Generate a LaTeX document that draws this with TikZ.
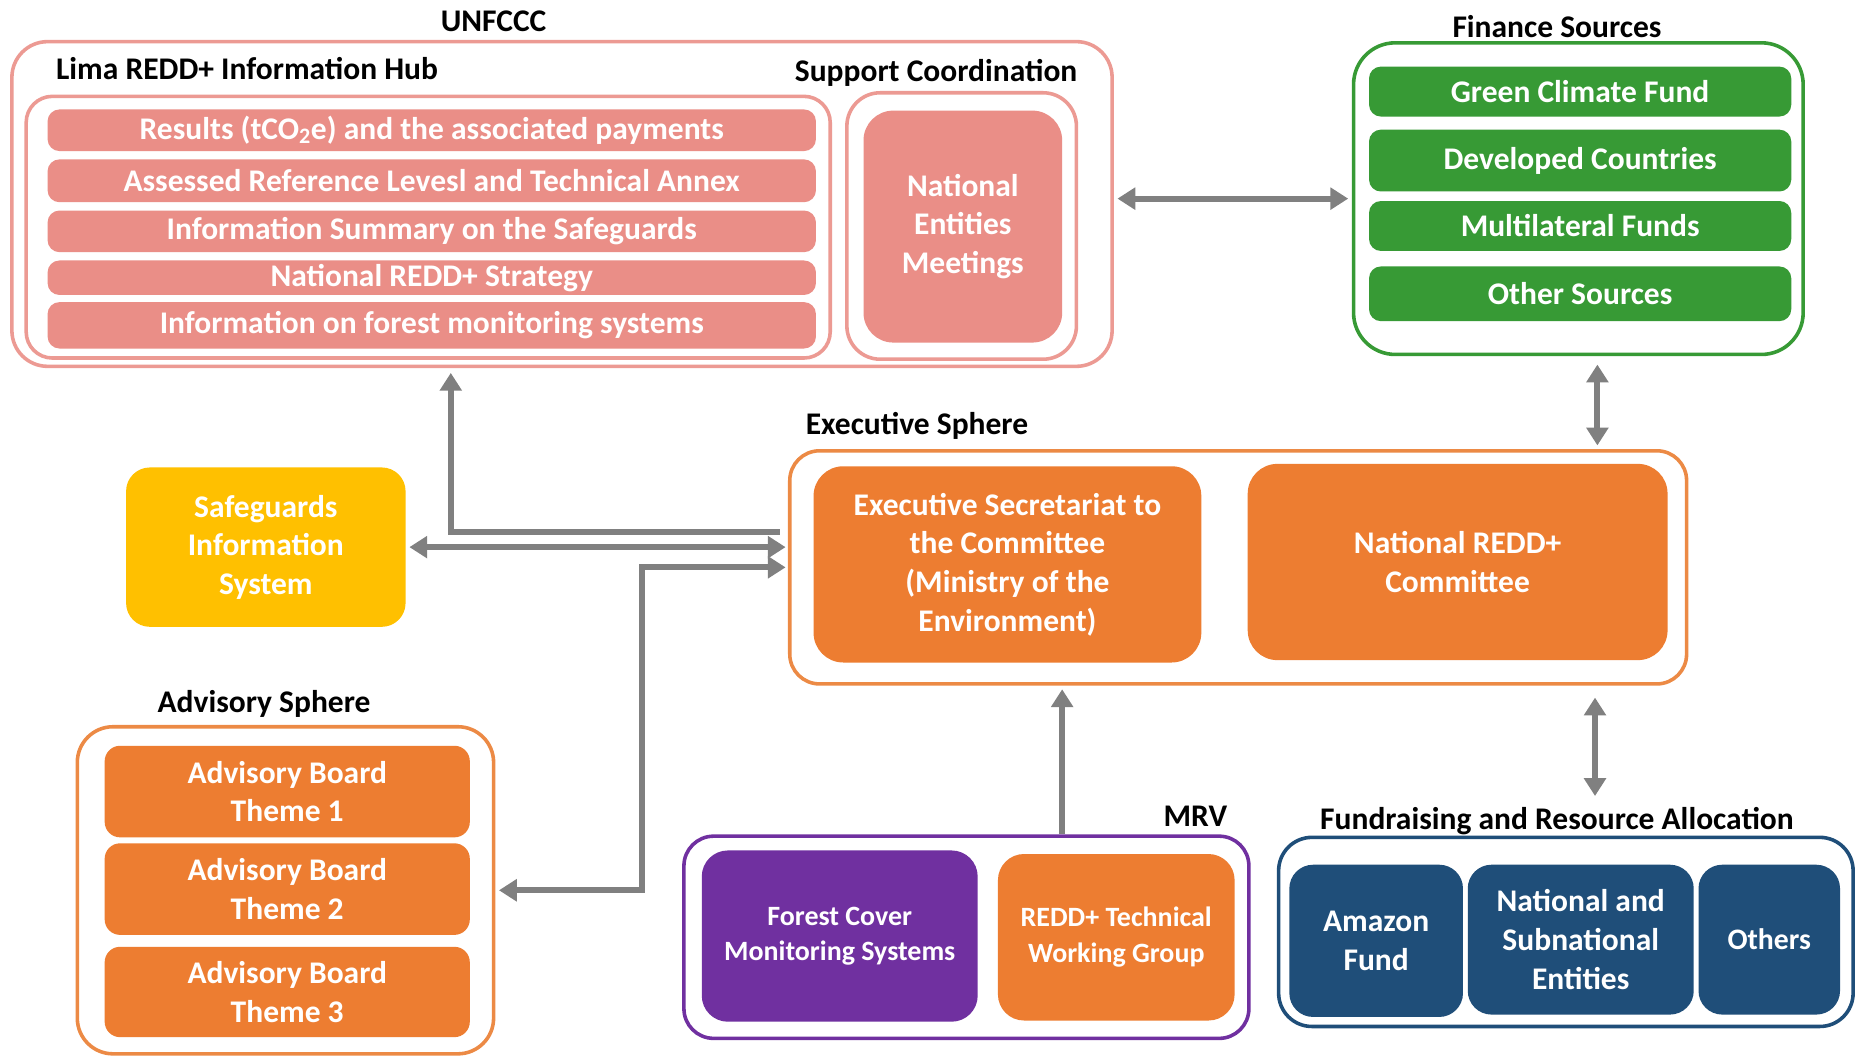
\documentclass[tikz,border=0pt]{standalone}
\usepackage{fontspec}
\setmainfont{Carlito}
\usetikzlibrary{arrows.meta,calc}
\definecolor{salmon}{HTML}{EA8E87}
\definecolor{salmonline}{HTML}{EC9A93}
\definecolor{grn}{HTML}{379A35}
\definecolor{orng}{HTML}{ED7D31}
\definecolor{orngline}{HTML}{EC8A45}
\definecolor{purp}{HTML}{7030A0}
\definecolor{dblue}{HTML}{1F4E79}
\definecolor{yell}{HTML}{FFC000}
\definecolor{arrgray}{HTML}{808080}
\tikzset{
  frame/.style={draw, line width=3pt, fill=white, rounded corners=#1, inner sep=0pt},
  frame/.default=28pt,
  item/.style={fill=#1, text=white, rounded corners=10pt, inner sep=0pt, align=center,
    font=\fontsize{26.5}{32.5}\selectfont\bfseries},
  small/.style={font=\fontsize{23.5}{30}\selectfont\bfseries},
  ttl/.style={text=black, inner sep=0pt, font=\fontsize{26.5}{30}\selectfont\bfseries},
  arr/.style={draw=arrgray, line width=5pt, arrows={-Triangle[length=15pt,width=18pt]}},
  darr/.style={draw=arrgray, line width=5pt, arrows={Triangle[length=15pt,width=18pt]-Triangle[length=15pt,width=18pt]}}
}
\begin{document}
\begin{tikzpicture}[x=1pt,y=-1pt]
\useasboundingbox (0,0) rectangle (1568,891.2);

% UNFCCC
\node[frame=30pt, draw=salmonline, minimum width=925pt, minimum height=273pt] (unfccc) at (472.5,171.5) {};
\node[ttl] (unfccct) at (415,18) {UNFCCC};
\node[ttl, anchor=west] (limat) at (47,58) {Lima REDD+ Information Hub};
\node[frame=22pt, draw=salmonline, minimum width=676pt, minimum height=220pt] (lima) at (360,191) {};
\node[item=salmon, minimum width=646pt, minimum height=35pt] (r1) at (363,109.5) {Results (tCO\textsubscript{2}e) and the associated payments};
\node[item=salmon, minimum width=646pt, minimum height=36pt] (r2) at (363,152) {Assessed Reference Levesl and Technical Annex};
\node[item=salmon, minimum width=646pt, minimum height=35pt] (r3) at (363,194.5) {Information Summary on the Safeguards};
\node[item=salmon, minimum width=646pt, minimum height=29pt] (r4) at (363,233.5) {National REDD+ Strategy};
\node[item=salmon, minimum width=646pt, minimum height=39pt] (r5) at (363,273.5) {Information on forest monitoring systems};
\node[ttl] (supt) at (787,61) {Support Coordination};
\node[frame=28pt, draw=salmonline, minimum width=193pt, minimum height=224pt] (sup) at (808.5,190) {};
\node[item=salmon, rounded corners=25pt, minimum width=167pt, minimum height=195pt] (nem) at (809.5,190.5) {National\\Entities\\Meetings};

% Finance
\node[ttl] (fint) at (1309,22) {Finance Sources};
\node[frame=35pt, draw=grn, minimum width=378pt, minimum height=262pt] (fin) at (1327,167) {};
\node[item=grn, minimum width=355pt, minimum height=42pt] (gcf) at (1328.5,77) {Green Climate Fund};
\node[item=grn, minimum width=355pt, minimum height=52pt] (dc) at (1328.5,135) {Developed Countries};
\node[item=grn, minimum width=355pt, minimum height=42pt] (mf) at (1328.5,190) {Multilateral Funds};
\node[item=grn, minimum width=355pt, minimum height=46pt] (os) at (1328.5,247) {Other Sources};

% Executive
\node[ttl] (exect) at (771,358) {Executive Sphere};
\node[frame=25pt, draw=orngline, minimum width=754pt, minimum height=196pt] (exec) at (1041,477) {};
\node[item=orng, rounded corners=25pt, minimum width=326pt, minimum height=165pt] (es) at (847,474.5) {Executive Secretariat to\\the Committee\\(Ministry of the\\Environment)};
\node[item=orng, rounded corners=25pt, minimum width=353pt, minimum height=165pt] (nrc) at (1225.5,472.5) {National REDD+\\Committee};

% Safeguards
\node[item=yell, rounded corners=20pt, minimum width=235pt, minimum height=134pt] (sis) at (223.5,460) {Safeguards\\Information\\System};

% Advisory
\node[ttl] (advt) at (222,592) {Advisory Sphere};
\node[frame=30pt, draw=orngline, minimum width=350pt, minimum height=275pt] (adv) at (240,748.5) {};
\node[item=orng, rounded corners=13pt, minimum width=307pt, minimum height=77pt] (t1) at (241.5,665.5) {Advisory Board\\Theme 1};
\node[item=orng, rounded corners=13pt, minimum width=307pt, minimum height=77pt] (t2) at (241.5,747.5) {Advisory Board\\Theme 2};
\node[item=orng, rounded corners=13pt, minimum width=307pt, minimum height=76pt] (t3) at (241.5,834) {Advisory Board\\Theme 3};

% MRV
\node[ttl] (mrvt) at (1005,686) {MRV};
\node[frame=25pt, draw=purp, minimum width=475pt, minimum height=170pt] (mrv) at (812.5,788) {};
\node[item=purp, small, rounded corners=22pt, minimum width=232pt, minimum height=144pt] (fc) at (706,787) {Forest Cover\\Monitoring Systems};
\node[item=orng, small, rounded corners=22pt, minimum width=199pt, minimum height=140pt] (rt) at (938.5,788) {REDD+ Technical\\Working Group};

% Fundraising
\node[ttl] (frt) at (1309,690) {Fundraising and Resource Allocation};
\node[frame=28pt, draw=dblue, minimum width=483pt, minimum height=159pt] (fr) at (1316.5,783.5) {};
\node[item=dblue, rounded corners=20pt, minimum width=146pt, minimum height=128pt] (af) at (1157,791) {Amazon\\Fund};
\node[item=dblue, rounded corners=20pt, minimum width=190pt, minimum height=126pt] (ns) at (1329,790) {National and\\Subnational\\Entities};
\node[item=dblue, rounded corners=20pt, minimum width=119pt, minimum height=126pt, font=\fontsize{25}{30}\selectfont\bfseries] (ot) at (1487.5,790) {Others};

% Connectors
\draw[darr] ($(unfccc.east |- fin.west)+(3,0)$) -- ($(fin.west)+(-3,0)$);
\draw[darr] ($(fin.south)+(16,7)$) -- ($(fin.south |- exec.north)+(16,-3)$);
\draw[darr] ($(exec.south -| frt.north)+(32,10)$) -- ($(frt.north)+(32,-9)$);
\draw[arr] ($(mrv.north)+(80.5,0)$) -- ($(mrv.north |- exec.south)+(80.5,3)$);
\draw[arr] ($(exec.west)+(-7,-30)$) -| ($(unfccc.south)+(-93.5,4)$);
\draw[darr] ($(sis.east)+(3,0)$) -- ($(exec.west |- sis.east)+(-2,0)$);
\draw[darr] ($(adv.east)+(3,0)$) -| ($(exec.west)+(-123,0)$) -- ($(exec.west)+(-2,0)$);
\end{tikzpicture}
\end{document}
